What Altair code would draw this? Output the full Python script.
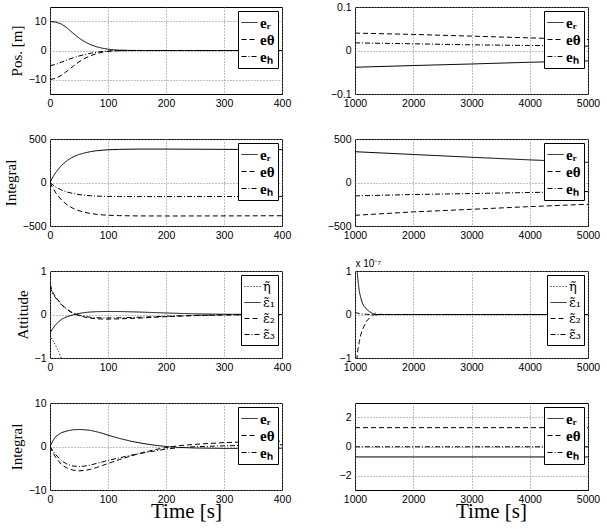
import altair as alt
import pandas as pd

# ---------------- data ----------------
E_LABELS = ["eᵣ", "eθ", "eₕ"]
ATT_LABELS = ["η̃", "ε̃₁", "ε̃₂", "ε̃₃"]

# Row 1 left: position error [m], t in 0..400
t_pos = [0, 10, 20, 30, 40, 50, 60, 70, 80, 90, 100, 110, 120, 140, 160, 200, 300, 400]
pos_er = [10, 9.8, 9.1, 7.7, 5.9, 4.3, 3.0, 2.0, 1.3, 0.8, 0.45, 0.25, 0.12, 0.03, 0, 0, 0, 0]
pos_eth = [-10, -9.6, -8.5, -7.0, -5.4, -3.9, -2.7, -1.8, -1.1, -0.6, -0.32, -0.16, -0.07, -0.01, 0, 0, 0, 0]
pos_eh = [-5.2, -4.8, -4.0, -3.2, -2.5, -1.9, -1.4, -0.95, -0.6, -0.35, -0.18, -0.08, -0.03, 0, 0, 0, 0, 0]

# Row 1 right: position error, t in 1000..5000
t_pos_l = [1000, 2000, 3000, 4000, 5000]
pos_er_l = [-0.0385, -0.0346, -0.031, -0.027, -0.024]
pos_eth_l = [0.040, 0.037, 0.033, 0.029, 0.025]
pos_eh_l = [0.0175, 0.0154, 0.013, 0.0116, 0.010]

# Row 2 left: integral of position error
t_int = [0, 5, 10, 20, 30, 40, 50, 60, 70, 80, 90, 100, 120, 150, 200, 300, 400]
int_er = [0, 64, 117, 198, 255, 295, 322, 340, 355, 365, 371, 376, 381, 384, 384, 381, 378]
int_eth = [0, -66, -120, -203, -260, -298, -325, -343, -357, -366, -372, -376, -381, -384, -385, -384, -382]
int_eh = [0, -28, -52, -87, -111, -127, -139, -147, -152, -156, -158, -160, -161, -162, -162, -161, -160]

# Row 2 right
t_int_l = [1000, 2000, 3000, 4000, 5000]
int_er_l = [354, 322, 290, 260, 232]
int_eth_l = [-377, -338, -308, -277, -250]
int_eh_l = [-154, -138, -127, -115, -104]

# Row 3 left: attitude error
t_att = [0, 5, 10, 15, 20, 25, 30, 35, 40, 45, 50, 60, 70, 80, 100, 120, 150, 200, 250, 300, 350, 400]
att_eta = [-0.48, -0.6, -0.72, -0.86, -1.02, -1.18, -1.32, -1.45, -1.56, -1.65, -1.72, -1.83, -1.9, -1.94,
           -1.98, -1.99, -2, -2, -2, -2, -2, -2]
att_e1 = [-0.42, -0.32, -0.23, -0.165, -0.11, -0.075, -0.048, -0.028, -0.008, 0.01, 0.025, 0.045, 0.058,
          0.065, 0.07, 0.068, 0.058, 0.035, 0.015, 0.005, 0.002, 0]
att_e2 = [0.70, 0.50, 0.40, 0.31, 0.23, 0.17, 0.12, 0.07, 0.03, 0.0, -0.025, -0.06, -0.085, -0.1, -0.105,
          -0.1, -0.085, -0.05, -0.025, -0.01, -0.004, 0]
att_e3 = [0.64, 0.47, 0.38, 0.30, 0.22, 0.16, 0.11, 0.065, 0.03, 0.005, -0.015, -0.045, -0.065, -0.075,
          -0.08, -0.075, -0.065, -0.04, -0.02, -0.008, -0.003, 0]

# Row 3 right: attitude error in units of 1e-7
t_att_l = [1000, 1025, 1050, 1075, 1100, 1125, 1150, 1200, 1250, 1300, 1350, 1400, 1500, 2000, 3000, 4000, 5000]
att_e1_l = [1.7, 1.2, 0.8, 0.52, 0.38, 0.27, 0.2, 0.12, 0.065, 0.025, -0.01, 0, 0, 0, 0, 0, 0]
att_e2_l = [-1.6, -1.1, -0.8, -0.62, -0.46, -0.36, -0.28, -0.15, -0.08, -0.03, 0.03, 0.005, 0, 0, 0, 0, 0]
att_e3_l = [0.05, 0.04, 0.03, 0.02, 0.02, 0.01, 0.01, 0.005, 0, 0, 0, 0, 0, 0, 0, 0, 0]

# Row 4 left: integral (second controller)
t_int2 = [0, 5, 10, 20, 30, 40, 50, 60, 70, 80, 90, 100, 120, 140, 160, 180, 200, 220, 250, 300, 350, 400]
int2_er = [0, 1.3, 2.3, 3.2, 3.6, 3.85, 3.9, 3.85, 3.7, 3.4, 3.05, 2.6, 1.85, 1.2, 0.7, 0.3, 0.0, -0.2,
           -0.35, -0.45, -0.45, -0.4]
int2_eth = [0, -1.4, -2.5, -4.2, -5.0, -5.45, -5.6, -5.5, -5.25, -4.85, -4.4, -3.9, -3.0, -2.15, -1.4,
            -0.75, -0.25, 0.15, 0.5, 0.9, 1.1, 1.2]
int2_eh = [0, -1.0, -1.9, -3.3, -4.1, -4.5, -4.6, -4.5, -4.25, -3.9, -3.55, -3.2, -2.6, -2.0, -1.5, -1.05,
           -0.6, -0.3, -0.05, 0.15, 0.3, 0.4]

# Row 4 right
t_int2_l = [1000, 5000]
int2_er_l = [-0.72, -0.72]
int2_eth_l = [1.3, 1.3]
int2_eh_l = [-0.02, -0.02]

# ---------------- styling ----------------
DASH_E = [[1, 0], [5, 3], [5, 2, 1, 2]]
DASH_ATT = [[1, 2], [1, 0], [5, 3], [5, 2, 1, 2]]
SANS = "Liberation Sans Narrow, Liberation Sans, Arial"
SERIF = "Liberation Serif, Times New Roman, serif"
W_L, W_R, H = 232, 233, 87


def long_df(t, series):
    rows = []
    for name, vals in series:
        for ti, v in zip(t, vals):
            rows.append({"t": ti, "v": v, "s": name})
    return pd.DataFrame(rows)


def panel(df, labels, dashes, xdom, xticks, ydom, yticks, width,
          ytitle=None, xtitle=None, att=False, exp_title=None):
    xaxis_kw = dict(values=xticks, labelFlush=False, format="d")
    if xtitle:
        xaxis_kw.update(title=xtitle, titleFont=SERIF, titleFontSize=21, titleFontWeight="normal",
                        titleX=136, titleY=27, titleBaseline="alphabetic", titleAlign="center")
    yaxis_kw = dict(values=yticks, labelFlush=False, format="~r")
    if ytitle:
        yaxis_kw.update(title=ytitle, titleFont=SERIF, titleFontSize=15, titleFontWeight="normal",
                        titlePadding=4)
    if exp_title:
        yaxis_kw.update(title=exp_title, titleFont=SANS, titleFontSize=10, titleFontWeight="normal",
                        titleAngle=0, titleX=0, titleY=-3, titleAlign="left", titleBaseline="bottom")
    if att:
        leg = alt.Legend(labelFontWeight="normal", labelFont="DejaVu Serif", labelFontSize=13)
    else:
        leg = alt.Legend(labelFontWeight="bold")
    return alt.Chart(df).mark_line(clip=True, color="black", strokeWidth=1).encode(
        x=alt.X("t:Q", scale=alt.Scale(domain=xdom, nice=False, zero=False),
                axis=alt.Axis(**xaxis_kw), title=xtitle if xtitle else None),
        y=alt.Y("v:Q", scale=alt.Scale(domain=ydom, nice=False, zero=False),
                axis=alt.Axis(**yaxis_kw), title=(ytitle or exp_title) if (ytitle or exp_title) else None),
        strokeDash=alt.StrokeDash("s:N", scale=alt.Scale(domain=labels, range=dashes),
                                  legend=leg, title=None),
    ).properties(width=width, height=H)


XL = [0, 100, 200, 300, 400]
XR = [1000, 2000, 3000, 4000, 5000]

p1 = panel(long_df(t_pos, [(E_LABELS[0], pos_er), (E_LABELS[1], pos_eth), (E_LABELS[2], pos_eh)]),
           E_LABELS, DASH_E, [0, 400], XL, [-15, 15], [-10, 0, 10], W_L, ytitle="Pos. [m]")
p2 = panel(long_df(t_pos_l, [(E_LABELS[0], pos_er_l), (E_LABELS[1], pos_eth_l), (E_LABELS[2], pos_eh_l)]),
           E_LABELS, DASH_E, [1000, 5000], XR, [-0.1, 0.1], [-0.1, 0, 0.1], W_R)
p3 = panel(long_df(t_int, [(E_LABELS[0], int_er), (E_LABELS[1], int_eth), (E_LABELS[2], int_eh)]),
           E_LABELS, DASH_E, [0, 400], XL, [-500, 500], [-500, 0, 500], W_L, ytitle="Integral")
p4 = panel(long_df(t_int_l, [(E_LABELS[0], int_er_l), (E_LABELS[1], int_eth_l), (E_LABELS[2], int_eh_l)]),
           E_LABELS, DASH_E, [1000, 5000], XR, [-500, 500], [-500, 0, 500], W_R)
p5 = panel(long_df(t_att, [(ATT_LABELS[0], att_eta), (ATT_LABELS[1], att_e1), (ATT_LABELS[2], att_e2),
                           (ATT_LABELS[3], att_e3)]),
           ATT_LABELS, DASH_ATT, [0, 400], XL, [-1, 1], [-1, 0, 1], W_L, ytitle="Attitude", att=True)
p6 = panel(long_df(t_att_l, [(ATT_LABELS[1], att_e1_l), (ATT_LABELS[2], att_e2_l), (ATT_LABELS[3], att_e3_l)]),
           ATT_LABELS, DASH_ATT, [1000, 5000], XR, [-1, 1], [-1, 0, 1], W_R, att=True,
           exp_title="x 10⁻⁷")
p7 = panel(long_df(t_int2, [(E_LABELS[0], int2_er), (E_LABELS[1], int2_eth), (E_LABELS[2], int2_eh)]),
           E_LABELS, DASH_E, [0, 400], XL, [-10, 10], [-10, 0, 10], W_L, ytitle="Integral",
           xtitle="Time [s]")
p8 = panel(long_df(t_int2_l, [(E_LABELS[0], int2_er_l), (E_LABELS[1], int2_eth_l), (E_LABELS[2], int2_eh_l)]),
           E_LABELS, DASH_E, [1000, 5000], XR, [-3, 3], [-2, 0, 2], W_R, xtitle="Time [s]")

chart = alt.concat(p1, p2, p3, p4, p5, p6, p7, p8, columns=2, bounds="flush",
                   spacing={"row": 45, "column": 73})

chart = chart.resolve_scale(strokeDash="independent").resolve_legend(strokeDash="independent").properties(
    padding={"left": 2, "top": 1, "right": 5, "bottom": 5},
    background="white",
).configure_view(
    stroke="black", strokeWidth=1
).configure_axis(
    grid=True, gridColor="#808080", gridDash=[1, 2], gridWidth=1,
    domain=False, ticks=False,
    labelFont=SANS, labelFontSize=10.5, labelColor="black", labelPadding=4,
    titleColor="black",
).configure_legend(
    orient="top-right", offset=4, padding=3, rowPadding=0,
    strokeColor="black", fillColor="white", cornerRadius=0,
    symbolType="stroke", symbolSize=256, symbolStrokeWidth=1, symbolStrokeColor="black",
    labelOffset=2, labelFont=SERIF, labelFontSize=15, labelColor="black",
)

chart.save("out.html", embed_options={"renderer": "svg", "actions": False})
